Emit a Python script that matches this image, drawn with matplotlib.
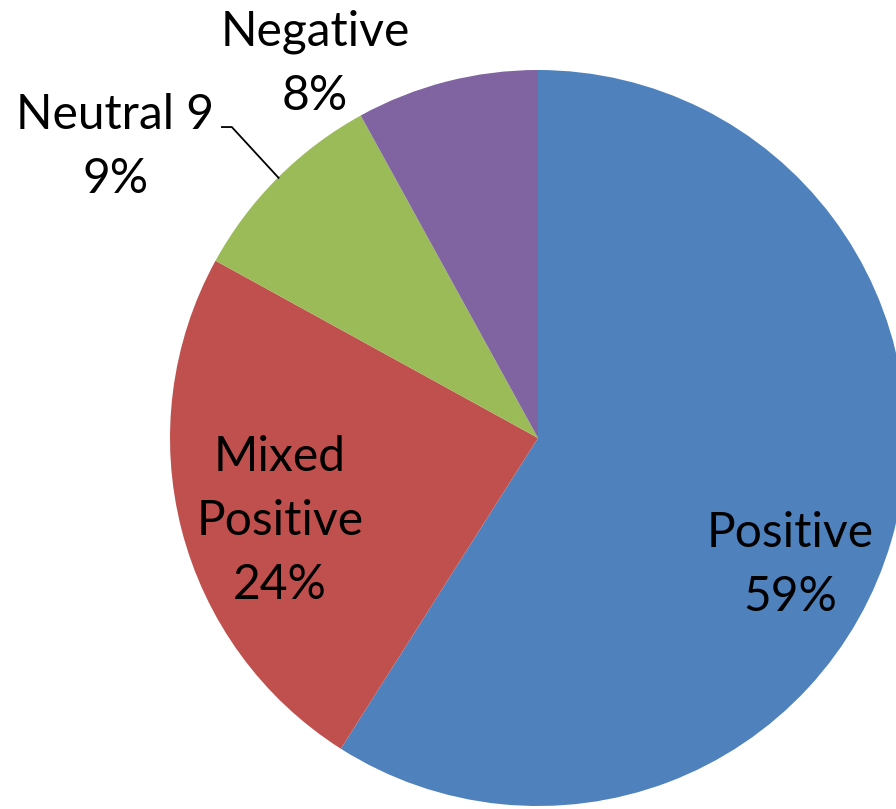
import numpy as np
import matplotlib.pyplot as plt

labels = ["Positive", "Mixed\nPositive", "Neutral 9", "Negative"]
shares = [59, 24, 9, 8]
colors = ["#4F81BD", "#C0504D", "#9BBB59", "#8064A2"]

# label text positions (data units, radius = 1)
label_pos = [(0.685, -0.345), (-0.701, -0.225), (-1.149, 0.791), (-0.606, 1.017)]

plt.rcParams['font.family'] = ['Lato', 'DejaVu Sans']

fig = plt.figure(figsize=(8.96, 8.09), dpi=100)
ax = fig.add_axes([0, 0, 1, 1])

wedges, _ = ax.pie(shares, colors=colors, startangle=90, counterclock=False,
                   radius=1.0, wedgeprops=dict(linewidth=0))

for (x, y), lab, s in zip(label_pos, labels, shares):
    ax.text(x, y, f"{lab}\n{s}%", ha="center", va="center", fontsize=34.5,
            linespacing=1.55, color="black")

# leader line for Neutral slice
ax.plot([-0.859, -0.832, -0.705], [0.845, 0.845, 0.707], color="black", lw=1.3)

ax.set_xlim(-538 / 368, (896 - 538) / 368)
ax.set_ylim(-(809 - 438) / 368, 438 / 368)
ax.set_aspect("auto")
ax.axis("off")

fig.savefig("out.png", dpi=100)
